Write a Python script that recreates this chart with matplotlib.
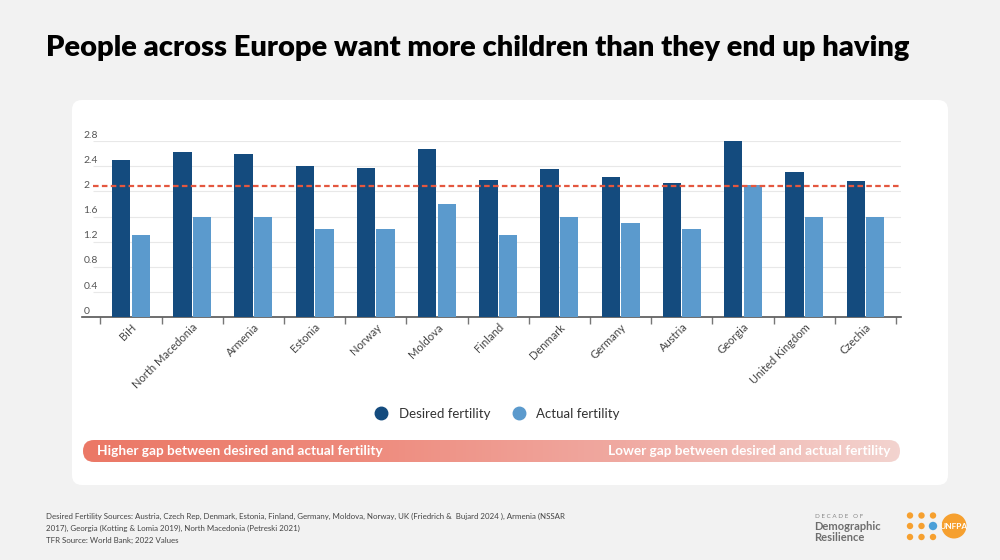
import numpy as np
import matplotlib.pyplot as plt
import matplotlib.transforms as mtransforms
from matplotlib.patches import FancyBboxPatch, Circle
from matplotlib.lines import Line2D
from matplotlib.colors import LinearSegmentedColormap

# data
countries = ["BiH", "North Macedonia", "Armenia", "Estonia", "Norway", "Moldova",
             "Finland", "Denmark", "Germany", "Austria", "Georgia",
             "United Kingdom", "Czechia"]
desired = [2.5, 2.62, 2.6, 2.4, 2.37, 2.68, 2.18, 2.35, 2.23, 2.14, 2.8, 2.3, 2.17]
actual = [1.3, 1.6, 1.6, 1.4, 1.4, 1.8, 1.3, 1.6, 1.5, 1.4, 2.1, 1.6, 1.6]
y_ticks = [0, 0.4, 0.8, 1.2, 1.6, 2.0, 2.4, 2.8]
y_labels = ["0", "0.4", "0.8", "1.2", "1.6", "2", "2.4", "2.8"]
replacement = 2.08

DARK = "#144b7e"
LIGHT = "#5b9acd"
BG = "#f2f2f2"
W, H = 1000, 560

plt.rcParams["font.family"] = ["Lato", "DejaVu Sans"]

fig = plt.figure(figsize=(10, 5.6), dpi=100)
fig.patch.set_facecolor(BG)

# background layer in pixel coordinates
bg = fig.add_axes([0, 0, 1, 1], zorder=0)
bg.set_xlim(0, W)
bg.set_ylim(H, 0)
bg.axis("off")

card = FancyBboxPatch((72, 100), 876, 385, boxstyle="round,pad=0,rounding_size=10",
                      fc="white", ec="none")
bg.add_patch(card)

# gradient band
band = FancyBboxPatch((83, 440), 817, 22, boxstyle="round,pad=0,rounding_size=11",
                      fc="none", ec="none")
bg.add_patch(band)
cmap = LinearSegmentedColormap.from_list("gap", ["#eb7866", "#ee8a7c", "#f0aaa2", "#f3d3cf"])
grad = np.linspace(0, 1, 256).reshape(1, -1)
im = bg.imshow(grad, cmap=cmap, extent=[83, 900, 462, 440], aspect="auto", zorder=1)
im.set_clip_path(band)
bg.text(97, 451, "Higher gap between desired and actual fertility", color="white",
        fontsize=9.8, fontweight="bold", ha="left", va="center", zorder=2)
bg.text(890, 451, "Lower gap between desired and actual fertility", color="white",
        fontsize=9.8, fontweight="bold", ha="right", va="center", zorder=2)

# logo
orange = "#f6a02f"
for cx in [910, 921.5, 933]:
    for cy in [515.5, 526, 537]:
        if cx == 933 and cy == 526:
            bg.add_patch(Circle((cx, cy), 4.2, fc="#4a9fd8", ec="none"))
        else:
            bg.add_patch(Circle((cx, cy), 3.2, fc=orange, ec="none"))
bg.add_patch(Circle((954, 526), 12.5, fc=orange, ec="none"))
bg.text(954, 526.5, "UNFPA", color="white", fontsize=6, fontweight="bold",
        ha="center", va="center")
bg.text(815, 516, "D E C A D E   O F", color="#888888", fontsize=4.5, va="center")
bg.text(814, 527, "Demographic", color="#6e6e6e", fontsize=8, fontweight="bold", va="center")
bg.text(814, 537.5, "Resilience", color="#6e6e6e", fontsize=8, fontweight="bold", va="center")

# title
fig.text(46 / W, 1 - 48 / H, "People across Europe want more children than they end up having",
         fontsize=21, fontweight="heavy", color="black", ha="left", va="center")

# footnotes
notes = ["Desired Fertility Sources: Austria, Czech Rep, Denmark, Estonia, Finland, Germany, "
         "Moldova, Norway, UK (Friedrich &  Bujard 2024 ), Armenia (NSSAR",
         "2017), Georgia (Kotting & Lomia 2019), North Macedonia (Petreski 2021)",
         "TFR Source: World Bank; 2022 Values"]
for k, line in enumerate(notes):
    fig.text(46 / W, 1 - (516 + 12 * k) / H, line, fontsize=5.7, color="#444444",
             ha="left", va="center")

# main chart
ax = fig.add_axes([82 / W, 1 - 317.3 / H, 819 / W, 176.3 / H], zorder=2)
ax.patch.set_alpha(0)
x = np.arange(len(countries))
ax.bar(x - 0.16, desired, width=0.3, color=DARK, zorder=3, clip_on=False)
ax.bar(x + 0.16, actual, width=0.3, color=LIGHT, zorder=3, clip_on=False)

ax.set_xlim(-0.8, 12.58)
ax.set_ylim(0, 2.8)

grid_x0 = -0.62
ax.hlines(y_ticks[1:], grid_x0, 12.58, color="#e8e8e8", lw=0.8, zorder=1)
ax.hlines(replacement, grid_x0, 12.58, color="#e4573f", lw=1.6,
          linestyles=(0, (2.5, 1.5)), zorder=4)

# y labels sit just above their grid lines
trans = mtransforms.blended_transform_factory(ax.transAxes, ax.transData)
trans = mtransforms.offset_copy(trans, fig=fig, x=0, y=6, units="dots")
for t, lab in zip(y_ticks, y_labels):
    ax.text(0.002, t, lab, transform=trans, fontsize=7.5, color="#555555",
            ha="left", va="center")
ax.set_yticks([])

for s in ["top", "right", "left"]:
    ax.spines[s].set_visible(False)
ax.spines["bottom"].set_color("#555555")
ax.spines["bottom"].set_linewidth(1.2)

ax.set_xticks(np.arange(-0.5, len(countries), 1))
ax.set_xticklabels([])
ax.tick_params(axis="x", which="major", length=5, color="#777777", width=1)
ax.set_xticks(x, minor=True)
ax.set_xticklabels(countries, minor=True, rotation=45, ha="right",
                   rotation_mode="anchor", fontsize=8, color="#444444")
ax.tick_params(axis="x", which="minor", length=0, pad=3)

handles = [Line2D([], [], marker="o", ls="none", markersize=9, color=DARK),
           Line2D([], [], marker="o", ls="none", markersize=9, color=LIGHT)]
fig.legend(handles, ["Desired fertility", "Actual fertility"], loc="center",
           bbox_to_anchor=(494 / W, 1 - 414 / H), ncol=2, frameon=False,
           fontsize=9.5, handletextpad=0.3, columnspacing=1.2, labelcolor="#333333")

fig.savefig("out.png", dpi=100, facecolor=BG)
